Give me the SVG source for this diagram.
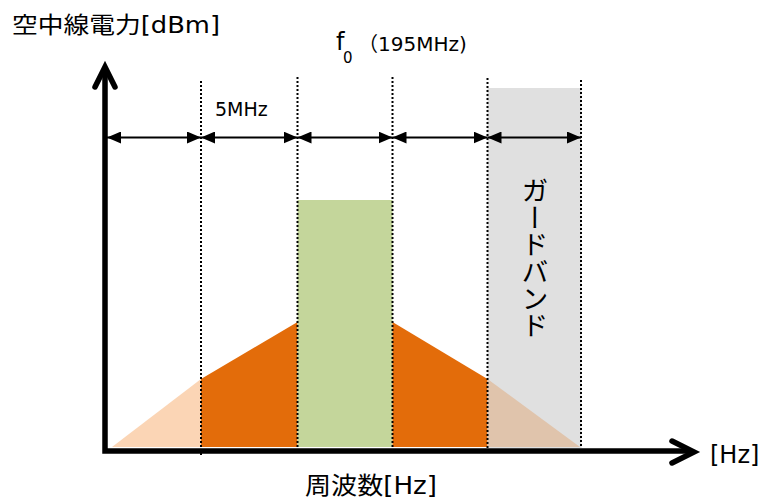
<svg xmlns="http://www.w3.org/2000/svg" width="764" height="499" viewBox="0 0 764 499">
  <style>
    .t { font-family: "DejaVu Sans", "Noto Sans CJK JP", sans-serif; fill: #000; }
    .dot { stroke: #000; stroke-width: 2; stroke-dasharray: 2 2; fill: none; }
    .dim { stroke: #000; stroke-width: 2; fill: none; marker-start: url(#ah); marker-end: url(#ah); }
    .axis { stroke: #000; stroke-width: 5.5; fill: none; }
    .head { stroke: #000; stroke-width: 5.5; fill: none; stroke-linecap: round; stroke-linejoin: miter; }
  </style>
  <defs>
    <marker id="ah" viewBox="0 0 14 12" refX="14" refY="6" markerWidth="14" markerHeight="12" markerUnits="userSpaceOnUse" orient="auto-start-reverse">
      <path d="M0,0 L14,6 L0,12 z" fill="#000"/>
    </marker>
  </defs>
  <rect width="764" height="499" fill="#fff"/>

  <g id="guard-band">
    <rect x="487.5" y="88" width="94" height="360" fill="#e0e0e0"/>
  </g>
  <g id="spectrum">
    <polygon points="112,447 201,379 201,447" fill="#fbd5b5"/>
    <polygon points="201,379 297.5,322 297.5,447 201,447" fill="#e36c0a"/>
    <rect id="center-channel" x="297.5" y="200" width="95" height="247" fill="#c4d69b"/>
    <polygon points="392.5,322 487.5,379 487.5,447 392.5,447" fill="#e36c0a"/>
    <polygon points="487.5,379 580,447 487.5,447" fill="#e0c4ac"/>
  </g>

  <g id="grid-lines">
    <line class="dot" x1="201" y1="81" x2="201" y2="456"/>
    <line class="dot" x1="297.5" y1="77" x2="297.5" y2="448"/>
    <line class="dot" x1="392.5" y1="77" x2="392.5" y2="448"/>
    <line class="dot" x1="487.5" y1="78" x2="487.5" y2="448"/>
    <line class="dot" x1="581" y1="80" x2="581" y2="448"/>
  </g>

  <g id="connectors">
    <line class="dim" x1="107" y1="137.5" x2="201" y2="137.5"/>
    <line class="dim" x1="201" y1="137.5" x2="297.5" y2="137.5"/>
    <line class="dim" x1="297.5" y1="137.5" x2="392.5" y2="137.5"/>
    <line class="dim" x1="392.5" y1="137.5" x2="487.5" y2="137.5"/>
    <line class="dim" x1="487.5" y1="137.5" x2="581" y2="137.5"/>
  </g>

  <g id="axes">
    <path class="axis" d="M105,70 L105,451 L692,451"/>
    <polyline class="head" points="95,87 105,67 115,87"/>
    <polyline class="head" points="672,441 694,452 672,463"/>
  </g>

  <g id="labels">
    <text class="t" x="12" y="33" font-size="23" textLength="208" lengthAdjust="spacingAndGlyphs">空中線電力[dBm]</text>
    <text class="t" x="336" y="50" font-size="24">f</text>
    <text class="t" x="343" y="63" font-size="15">0</text>
    <text class="t" x="358" y="51" font-size="20">（195MHz)</text>
    <text class="t" x="215" y="116" font-size="19">5MHz</text>
    <text class="t" x="533" y="177" font-size="27" style="writing-mode: vertical-rl; text-orientation: upright;">ガードバンド</text>
    <text class="t" x="305" y="494" font-size="24" textLength="132" lengthAdjust="spacingAndGlyphs">周波数[Hz]</text>
    <text class="t" x="710" y="463" font-size="24">[Hz]</text>
  </g>
</svg>
